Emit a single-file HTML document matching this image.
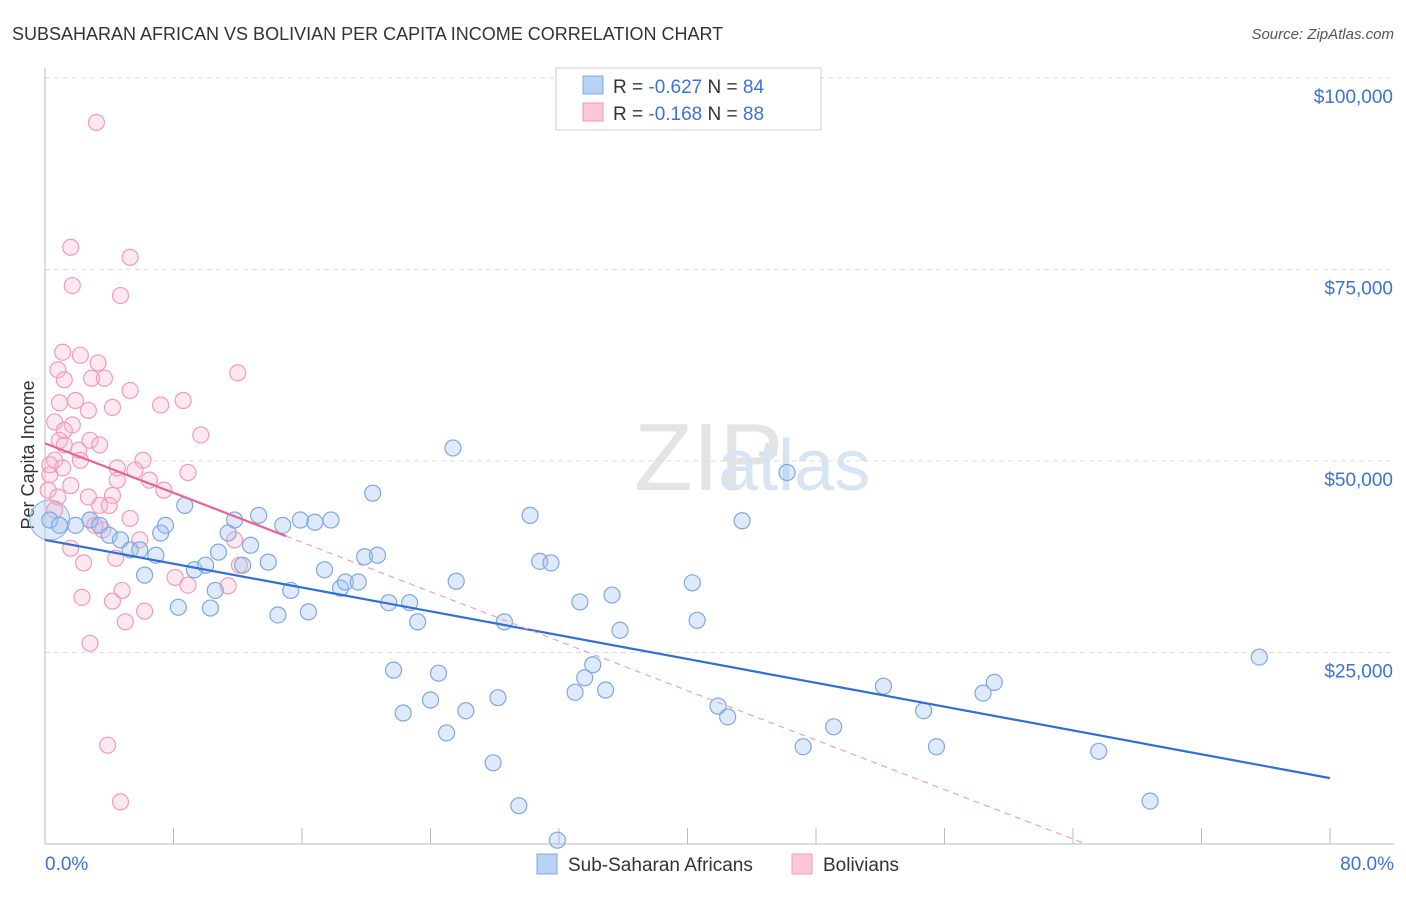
<!DOCTYPE html>
<html><head><meta charset="utf-8">
<style>
body{margin:0;background:#fff;font-family:"Liberation Sans",sans-serif;}
svg text{font-family:"Liberation Sans",sans-serif;}
</style></head>
<body>
<svg id="chart" width="1406" height="892" xmlns="http://www.w3.org/2000/svg">
<text x="12" y="40" font-size="18" fill="#333">SUBSAHARAN AFRICAN VS BOLIVIAN PER CAPITA INCOME CORRELATION CHART</text>
<text x="1394" y="39" font-size="15" fill="#555" font-style="italic" text-anchor="end">Source: ZipAtlas.com</text>
<text x="634" y="490" font-size="96" fill="#e4e4e4" font-family="Liberation Serif">ZIP</text>
<text x="718" y="490" font-size="72" fill="#d6e4f4">atlas</text>
<text transform="translate(34,455) rotate(-90)" font-size="18" fill="#333" text-anchor="middle">Per Capita Income</text>
<g id="grid"></g><g id="axes"></g><g id="pts"></g><g id="trend"></g>
<g>
<rect x="556" y="68" width="265" height="62" fill="#fff" stroke="#ccc"/>
<rect x="583" y="76" width="20" height="18" fill="#b8d2f4" stroke="#7fa8e0"/>
<rect x="583" y="103" width="20" height="18" fill="#fcc8d8" stroke="#f09ab6"/>
<text x="613" y="93" font-size="19" fill="#333">R = <tspan fill="#3b73d6">-0.627</tspan>   N = <tspan fill="#3b73d6">84</tspan></text>
<text x="613" y="120" font-size="19" fill="#333">R =  <tspan fill="#3b73d6">-0.168</tspan>   N = <tspan fill="#3b73d6">88</tspan></text>
</g>
<g>
<rect x="537" y="854" width="20" height="20" fill="#b8d2f4" stroke="#7fa8e0"/>
<text x="568" y="871" font-size="19" fill="#333">Sub-Saharan Africans</text>
<rect x="792" y="854" width="20" height="20" fill="#fcc8d8" stroke="#f09ab6"/>
<text x="823" y="871" font-size="19" fill="#333">Bolivians</text>
</g>
</svg>
<script>
const xTicks=[0,8,16,24,32,40,48,56,64,72,80];
const yTicks=[25000,50000,75000,100000];
const yTickLabels=["$25,000","$50,000","$75,000","$100,000"];
const blueX=[0.3,0.9,1.9,2.8,3.4,4.0,4.7,5.3,5.9,6.9,6.2,7.2,8.3,8.7,9.3,10.0,10.3,10.8,11.4,11.8,12.3,12.8,13.3,13.9,14.5,14.8,15.3,15.9,16.4,16.8,17.4,17.8,18.4,18.7,19.5,19.9,20.7,20.4,21.4,21.7,22.3,22.7,23.2,24.0,24.5,25.0,25.4,25.6,26.2,27.9,28.2,28.6,29.5,30.2,30.8,31.5,31.9,33.0,33.3,33.6,34.1,34.9,35.3,35.8,40.3,40.6,41.9,42.5,43.4,46.2,47.2,49.1,52.2,54.7,55.5,58.4,59.1,65.6,68.8,75.6,7.5,10.6];
const blueY=[42.3,41.6,41.6,42.3,41.6,40.3,39.7,38.4,38.4,37.7,35.1,40.6,30.9,44.2,35.8,36.4,30.8,38.1,40.6,42.3,36.4,39.0,42.9,36.8,29.9,41.6,33.1,42.3,30.3,42.0,35.8,42.3,33.4,34.2,34.2,37.5,37.7,45.8,31.5,22.7,17.1,31.5,29.0,18.8,22.3,14.5,51.7,34.3,17.4,10.6,19.1,29.0,5.0,42.9,36.9,36.7,0.5,19.8,31.6,21.7,23.4,20.1,32.5,27.9,34.1,29.2,18.0,16.6,42.2,48.5,12.7,15.3,20.6,17.4,12.7,19.7,21.1,12.1,5.6,24.4,41.6,33.1];
const pinkX=[3.2,1.6,1.7,5.3,4.7,1.1,2.2,3.3,0.8,2.9,3.7,12.0,1.2,5.3,1.9,0.9,2.7,4.2,7.2,8.6,0.6,1.7,9.7,0.9,2.8,3.4,1.2,2.1,0.6,6.1,1.1,4.5,5.6,8.9,6.5,0.3,1.6,4.5,0.2,2.7,0.8,4.2,7.4,3.4,4.0,2.8,5.3,3.6,1.6,4.4,2.4,12.1,8.1,8.9,11.4,4.8,2.3,4.2,6.2,5.0,2.8,3.9,4.7,0.3,0.6,3.1,1.2,2.2,5.9,11.8];
const pinkY=[94.2,77.9,72.9,76.6,71.6,64.2,63.8,62.8,61.9,60.8,60.8,61.5,60.6,59.2,57.9,57.6,56.6,57.0,57.3,57.9,55.1,54.7,53.4,52.7,52.7,52.1,52.1,51.4,50.1,50.1,49.1,49.1,48.8,48.5,47.5,48.2,46.8,47.5,46.2,45.3,45.3,45.5,46.2,44.2,44.2,42.3,42.5,41.0,38.6,37.3,36.7,36.4,34.8,33.8,33.7,33.1,32.2,31.7,30.4,29.0,26.2,12.9,5.5,49.5,43.6,41.6,54.0,50.1,39.7,39.7];
const blueTrend=[[0,39.7],[80,8.6]];
const pinkTrendSolid=[[0,52.3],[15,40.2]];
const pinkTrendDash=[[15,40.2],[64.8,0]];

const NS="http://www.w3.org/2000/svg";
const X=v=>45+v/80*1285;
const Y=v=>844-v/25*191.5; // v in thousands
function mk(tag,attrs,parent){const e=document.createElementNS(NS,tag);for(const k in attrs)e.setAttribute(k,attrs[k]);document.getElementById(parent).appendChild(e);return e;}
yTicks.forEach((t,i)=>{
  const g=mk('line',{x1:45,x2:1394,y1:Y(t/1000),y2:Y(t/1000),stroke:'#ddd','stroke-dasharray':'5,4'},'grid');
  
  
  const l=mk('text',{x:1393,y:Y(t/1000)+25,'font-size':19,fill:'#3b73d6','text-anchor':'end'},'axes');
  l.textContent=yTickLabels[i];
  
  
});
let a=mk('line',{x1:45,x2:45,y1:68,y2:844,stroke:'#bbb'},'axes');


a=mk('line',{x1:45,x2:1394,y1:844,y2:844,stroke:'#bbb'},'axes');


xTicks.forEach(t=>{
  const e=mk('line',{x1:X(t),x2:X(t),y1:828,y2:844,stroke:'#bbb'},'axes');
  
  
});
let t=mk('text',{x:45,y:870,'font-size':19,fill:'#3b73d6'},'axes');t.textContent='0.0%';


t=mk('text',{x:1394,y:870,'font-size':19,fill:'#3b73d6','text-anchor':'end'},'axes');t.textContent='80.0%';


// big cluster circle
let big=mk('circle',{cx:X(0.3),cy:Y(42.3),r:20,fill:'rgba(160,195,240,0.35)',stroke:'#8ab0e6','stroke-width':1},'pts');


pinkX.forEach((x,i)=>{
  const c=mk('circle',{cx:X(x),cy:Y(pinkY[i]),r:8,fill:'rgba(248,180,202,0.3)',stroke:'#f29bb8','stroke-width':1.2},'pts');
  
  
});
blueX.forEach((x,i)=>{
  const c=mk('circle',{cx:X(x),cy:Y(blueY[i]),r:8,fill:'rgba(160,195,240,0.35)',stroke:'#7fa8e0','stroke-width':1.2},'pts');
  
  
});
let l=mk('line',{x1:X(blueTrend[0][0]),y1:Y(blueTrend[0][1]),x2:X(blueTrend[1][0]),y2:Y(blueTrend[1][1]),stroke:'#2f6fd6','stroke-width':2.2},'trend');


l=mk('line',{x1:X(pinkTrendDash[0][0]),y1:Y(pinkTrendDash[0][1]),x2:X(pinkTrendDash[1][0]),y2:Y(pinkTrendDash[1][1]),stroke:'#f0a0bc','stroke-width':1.2,'stroke-dasharray':'6,5'},'trend');


l=mk('line',{x1:X(pinkTrendSolid[0][0]),y1:Y(pinkTrendSolid[0][1]),x2:X(pinkTrendSolid[1][0]),y2:Y(pinkTrendSolid[1][1]),stroke:'#e8658f','stroke-width':2.2},'trend');


</script>
</body></html>
